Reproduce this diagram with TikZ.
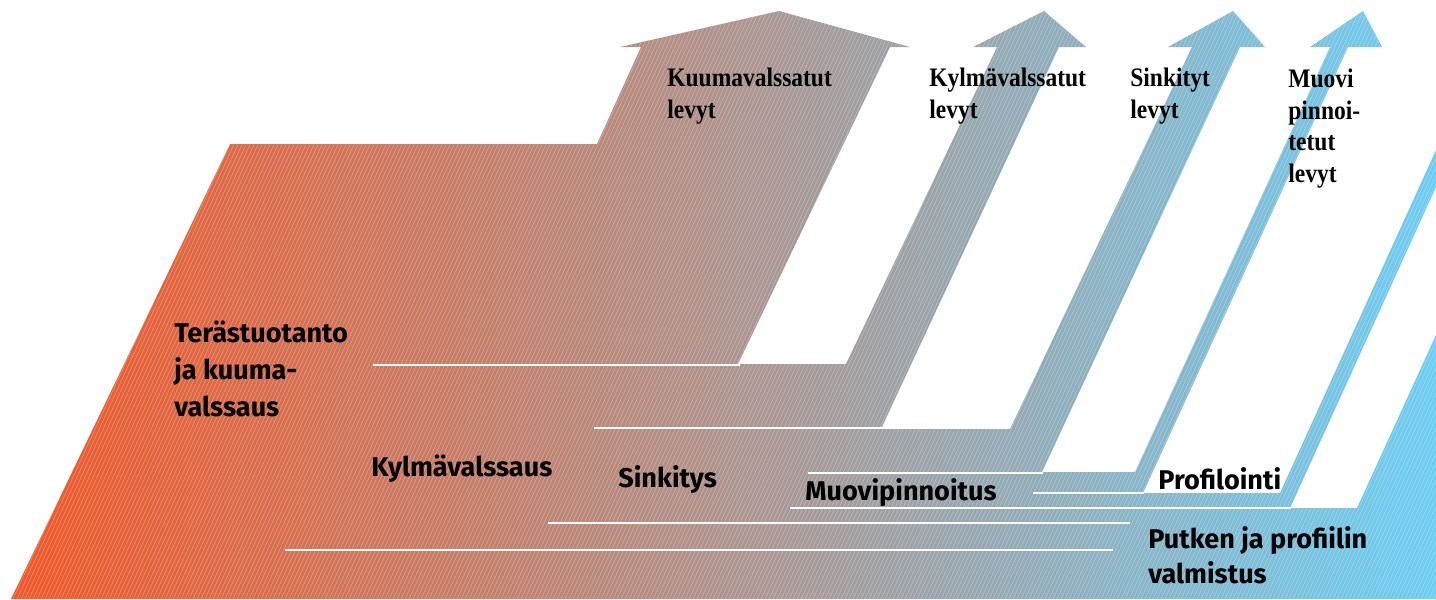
\documentclass[tikz,border=0pt]{standalone}
\usepackage{fontspec}
\setsansfont{Fira Sans}
\newfontfamily\productfont[FakeStretch=0.88]{Liberation Serif}
\usetikzlibrary{positioning}
\definecolor{steelorange}{RGB}{240,88,40}
\definecolor{steelgrey}{RGB}{182,162,150}
\definecolor{steelblue}{RGB}{108,205,242}

% outline of the whole production flow, in pixel units
\newcommand\flowoutline{(11,599) -- (230,144) -- (597,144)
  -- (641,47) -- (620,47) -- (779,11) -- (910,47) -- (890,47) -- (738,364)
  -- (846,364) -- (997,47) -- (973,47) -- (1044,11) -- (1086,47) -- (1059,47) -- (881,429)
  -- (1010,429) -- (1192,47) -- (1168,47) -- (1233,11) -- (1265,47) -- (1240,47) -- (1042,472)
  -- (1135,472) -- (1330,47) -- (1310,47) -- (1363,11) -- (1382,47) -- (1348,47) -- (1143,493)
  -- (1280,493) -- (1436,150) -- (1436,187) -- (1290,508)
  -- (1357,508) -- (1436,335) -- (1436,599) -- cycle}

\begin{document}
\begin{tikzpicture}[x=0.02cm, y=-0.02cm,
  stagelabel/.style={anchor=base west, inner sep=0pt, align=left,
    font=\fontsize{15.4}{21}\selectfont\sffamily\bfseries},
  productlabel/.style={anchor=base west, inner sep=0pt, align=left,
    font=\fontsize{15.2}{17.9}\selectfont\productfont\bfseries},
  hatchline/.style={white, opacity=0.3, line width=0.35pt},
  divider/.style={white, line width=1.1pt}]
\useasboundingbox (0,0) rectangle (1436,599);

\shade[left color=steelorange, middle color=steelgrey, right color=steelblue] \flowoutline;
\begin{scope}
  \clip \flowoutline;
  \foreach \hx in {-300,-296,...,1440}
    \draw[hatchline] (\hx,610) -- ++(285,-620);
\end{scope}

% separators between the process bands
\draw[divider] (373,365) -- (740,365);
\draw[divider] (594,428) -- (882,428);
\draw[divider] (808,473) -- (1043,473);
\draw[divider] (1033,493) -- (1144,493);
\draw[divider] (790,508) -- (1291,508);
\draw[divider] (548,523) -- (1130,523);
\draw[divider] (285,550) -- (1113,550);

% processes (base = last line)
\node[stagelabel] (steel) at (174,416) {Terästuotanto\\ja kuuma-\\valssaus};
\node[stagelabel] (cold) at (371,476) {Kylmävalssaus};
\node[stagelabel] (galv) at (618,487) {Sinkitys};
\node[stagelabel] (coat) at (805,500) {Muovipinnoitus};
\node[stagelabel] (prof) at (1158,489) {Profilointi};
\node[stagelabel, font=\fontsize{15.4}{19.6}\selectfont\sffamily\bfseries]
  (tube) at (1148,583) {Putken ja profiilin\\valmistus};

% products
\node[productlabel] (hotplate) at (667,118) {Kuumavalssatut\\levyt};
\node[productlabel] (coldplate) at (929,118) {Kylmävalssatut\\levyt};
\node[productlabel] (galvplate) at (1130,118) {Sinkityt\\levyt};
\node[productlabel] (coatplate) at (1288,182) {Muovi\\pinnoi-\\tetut\\levyt};
\end{tikzpicture}
\end{document}
